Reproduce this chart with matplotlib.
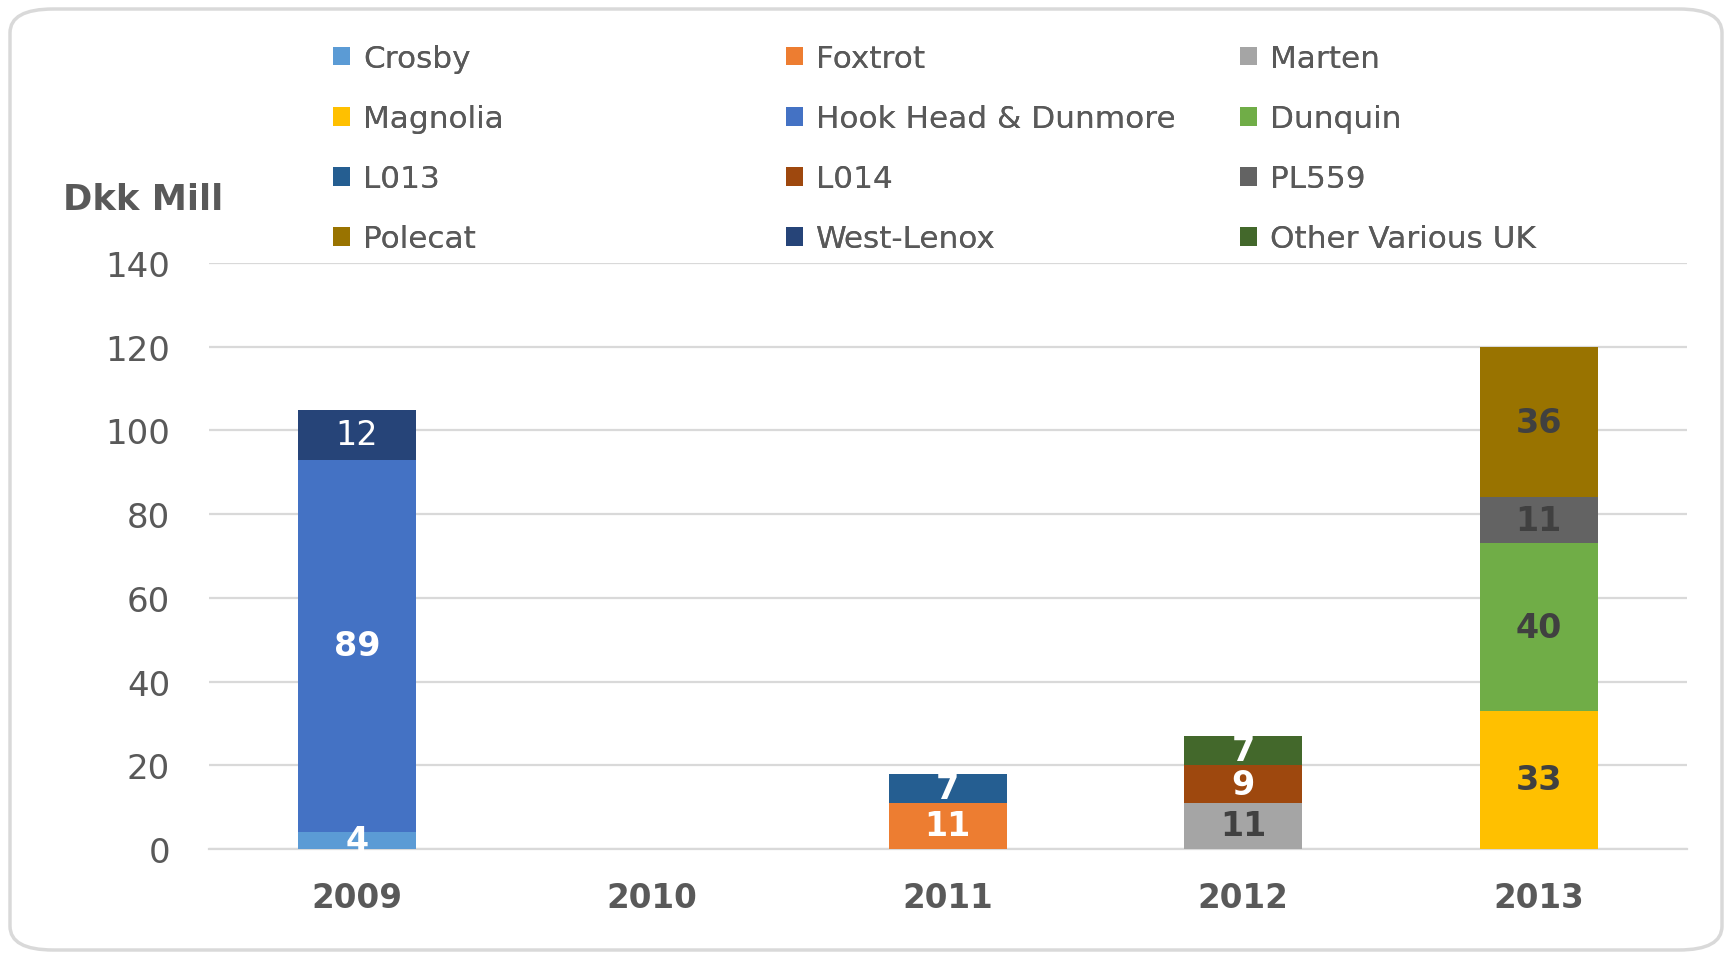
import matplotlib
matplotlib.use("Agg")
import matplotlib.pyplot as plt
from matplotlib.patches import FancyBboxPatch, Patch
import numpy as np

years = ["2009", "2010", "2011", "2012", "2013"]
series = ["Crosby", "Foxtrot", "Marten", "Magnolia", "Hook Head & Dunmore", "Dunquin",
          "L013", "L014", "PL559", "Polecat", "West-Lenox", "Other Various UK"]
colors = ["#5B9BD5", "#ED7D31", "#A5A5A5", "#FFC000", "#4472C4", "#70AD47",
          "#255E91", "#9E480E", "#636363", "#997300", "#264478", "#43682B"]
# values per series, one per year (2009..2013)
crosby = [4, 0, 0, 0, 0]
foxtrot = [0, 0, 11, 0, 0]
marten = [0, 0, 0, 11, 0]
magnolia = [0, 0, 0, 0, 33]
hook_head = [89, 0, 0, 0, 0]
dunquin = [0, 0, 0, 0, 40]
l013 = [0, 0, 7, 0, 0]
l014 = [0, 0, 0, 9, 0]
pl559 = [0, 0, 0, 0, 11]
polecat = [0, 0, 0, 0, 36]
west_lenox = [12, 0, 0, 0, 0]
other_uk = [0, 0, 0, 7, 0]
values = [crosby, foxtrot, marten, magnolia, hook_head, dunquin,
          l013, l014, pl559, polecat, west_lenox, other_uk]
label_colors = ["white", "white", "#404040", "#404040", "white", "#404040",
                "white", "white", "#404040", "#404040", "white", "white"]

grey = "#595959"
W, H = 1732, 954
fig = plt.figure(figsize=(W / 100, H / 100), dpi=100)
ax = fig.add_axes([209 / W, 1 - 850 / H, (1686.5 - 209) / W, (850 - 264) / H])

# rounded chart border
fig.patches.append(FancyBboxPatch((10 / W, 3 / H), (W - 20) / W, (H - 13) / H,
                                  boxstyle="round,pad=0,rounding_size=0.025",
                                  transform=fig.transFigure, facecolor="none",
                                  edgecolor="#D9D9D9", linewidth=2.5, zorder=0))

x = np.arange(len(years))
bottom = np.zeros(len(years))
for name, vals, col, lc in zip(series, values, colors, label_colors):
    vals = np.array(vals, dtype=float)
    ax.bar(x, vals, 0.4, bottom=bottom, color=col, label=name, zorder=3)
    for xi, v, b in zip(x, vals, bottom):
        if v > 0:
            wt = "normal" if name == "West-Lenox" else "bold"
            ax.text(xi, b + v / 2, f"{v:.0f}", ha="center", va="center",
                    color=lc, fontsize=24, fontweight=wt, zorder=4)
    bottom += vals

ax.set_xlim(-0.5, 4.5)
ax.set_ylim(0, 140)
ax.set_yticks(range(0, 141, 20))
ax.set_xticks(x)
ax.set_xticklabels(years, fontsize=23.5, fontweight="bold", color=grey)
ax.tick_params(axis="y", labelsize=24.5, labelcolor=grey, length=0, pad=28)
ax.tick_params(axis="x", length=0, pad=23)
ax.yaxis.grid(True, color="#D9D9D9", linewidth=1.6, zorder=0)
ax.set_axisbelow(True)
for s in ["top", "right", "left"]:
    ax.spines[s].set_visible(False)
ax.spines["bottom"].set_color("#D9D9D9")
ax.spines["bottom"].set_linewidth(1.6)

fig.text(63 / W, 1 - 200 / H, "Dkk Mill", fontsize=25.5, fontweight="bold",
         color=grey, ha="left", va="center")

# legend: three columns, filled row by row
handles = [Patch(facecolor=c, label=n) for n, c in zip(series, colors)]
col_x = [333, 786, 1240]
for j in range(3):
    leg = fig.legend(handles=handles[j::3], loc="upper left",
                     bbox_to_anchor=(col_x[j] / W, 1 - 45 / H), frameon=False,
                     fontsize=22.4, labelcolor=grey, handlelength=0.56, handleheight=0.56,
                     handletextpad=0.4, labelspacing=1.0, borderpad=0, borderaxespad=0)
    fig.add_artist(leg)

fig.savefig("out.png", dpi=100)
